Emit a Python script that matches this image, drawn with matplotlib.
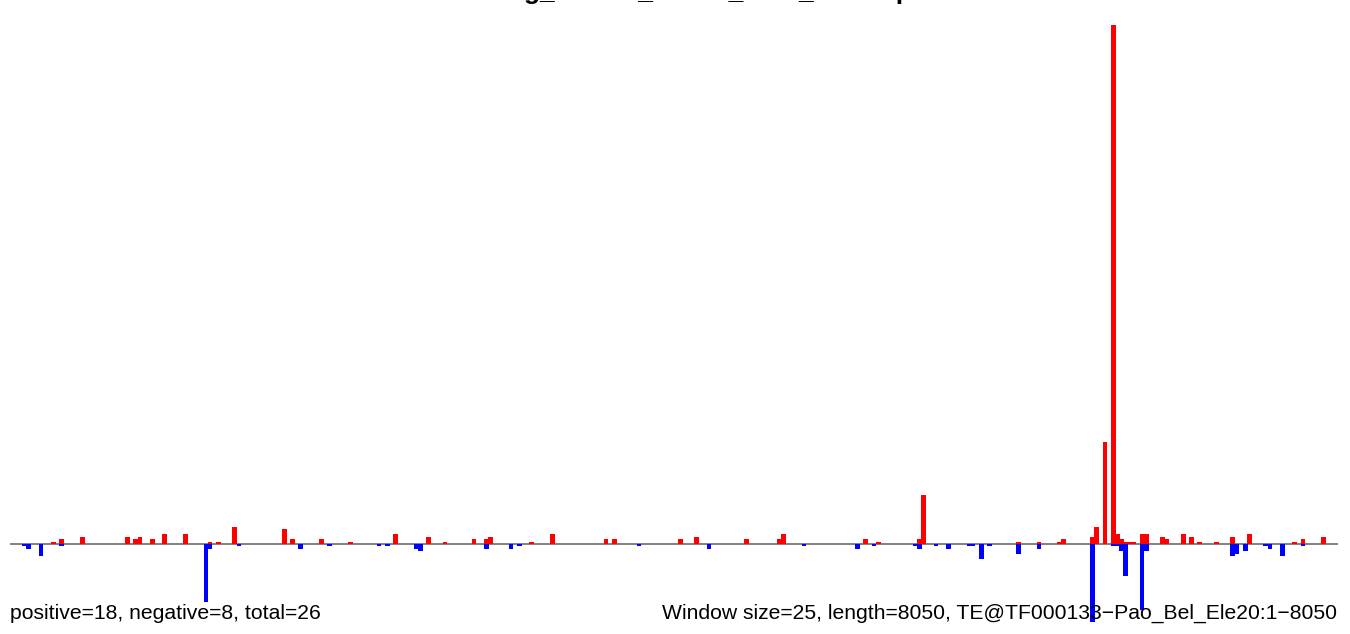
import matplotlib
matplotlib.use("Agg")
import matplotlib.pyplot as plt
import numpy as np

plt.rcParams['font.family'] = ['Liberation Sans', 'DejaVu Sans']

# window settings
win_size = 25
seq_len = 8050

# windows (index of 25 bp window) with sense / antisense read counts
pos_win = [10, 12, 17, 28, 30, 31, 34, 37, 42, 48, 50, 54, 66, 68, 75, 82, 93, 101, 105, 112,
           115, 116, 126, 131, 144, 146, 162, 166, 178, 186, 187, 207, 210, 220, 221, 244, 249, 254, 255, 262,
           263, 265, 267, 268, 269, 270, 271, 272, 274, 275, 279, 280, 284, 286, 288, 292, 296, 300, 311, 313,
           318]
pos_val = [1, 2, 3, 3, 2, 3, 2, 4, 4, 1, 1, 7, 6, 2, 2, 1, 4, 3, 1, 2,
           2, 3, 1, 4, 2, 2, 2, 3, 2, 2, 4, 2, 1, 2, 20, 1, 1, 1, 2, 3,
           7, 42, 213, 4, 2, 1, 1, 1, 4, 4, 3, 2, 4, 3, 1, 1, 3, 4, 1, 2,
           3]

neg_win = [3, 4, 7, 12, 47, 48, 55, 70, 77, 89, 91, 98, 99, 115, 121, 123, 152, 169, 192, 205,
           209, 219, 220, 224, 227, 232, 233, 235, 237, 244, 249, 262, 267, 268, 269, 270, 274, 275, 296, 297,
           299, 304, 305, 308, 313]
neg_val = [1, 2, 5, 1, 24, 2, 1, 2, 1, 1, 1, 2, 3, 2, 2, 1, 1, 2, 1, 2,
           1, 1, 2, 1, 2, 1, 1, 6, 1, 4, 2, 32, 1, 1, 3, 13, 27, 3, 5, 4,
           3, 1, 2, 5, 1]

title_txt = "Reading_Strand_Totals_Bias_Overlap"
left_txt = "positive=18, negative=8, total=26"
right_txt = "Window size=25, length=8050, TE@TF000133\u2212Pao_Bel_Ele20:1\u22128050"

fig = plt.figure(figsize=(13.5, 6.34), dpi=100)
ax = fig.add_axes([10 / 1350, 0, 1328 / 1350, 1 - 25 / 634])

pos_x = np.array(pos_win) * win_size + win_size / 2
neg_x = np.array(neg_win) * win_size + win_size / 2
bw = win_size * 1.15
ax.bar(pos_x, pos_val, width=bw, color='#ff0000', linewidth=0, zorder=2)
ax.bar(neg_x, -np.array(neg_val), width=bw, color='#0000ff', linewidth=0, zorder=2)
ax.axhline(0, color='#777777', lw=1.3, zorder=1)

top = max(pos_val)
ax.set_ylim(-top * 90 / 519, top)
ax.set_xlim(0, seq_len)
ax.axis('off')

# title sits mostly above the canvas, only descenders show
fig.text(436 / 1350, 1 + 1.2 / 634, title_txt, ha='left', va='baseline',
         fontsize=19, fontweight='bold')
fig.text(10 / 1350, 15 / 634, left_txt, ha='left', va='baseline', fontsize=15.2)
fig.text(1337 / 1350, 15 / 634, right_txt, ha='right', va='baseline', fontsize=15.2)

fig.savefig('out.png', dpi=100)
